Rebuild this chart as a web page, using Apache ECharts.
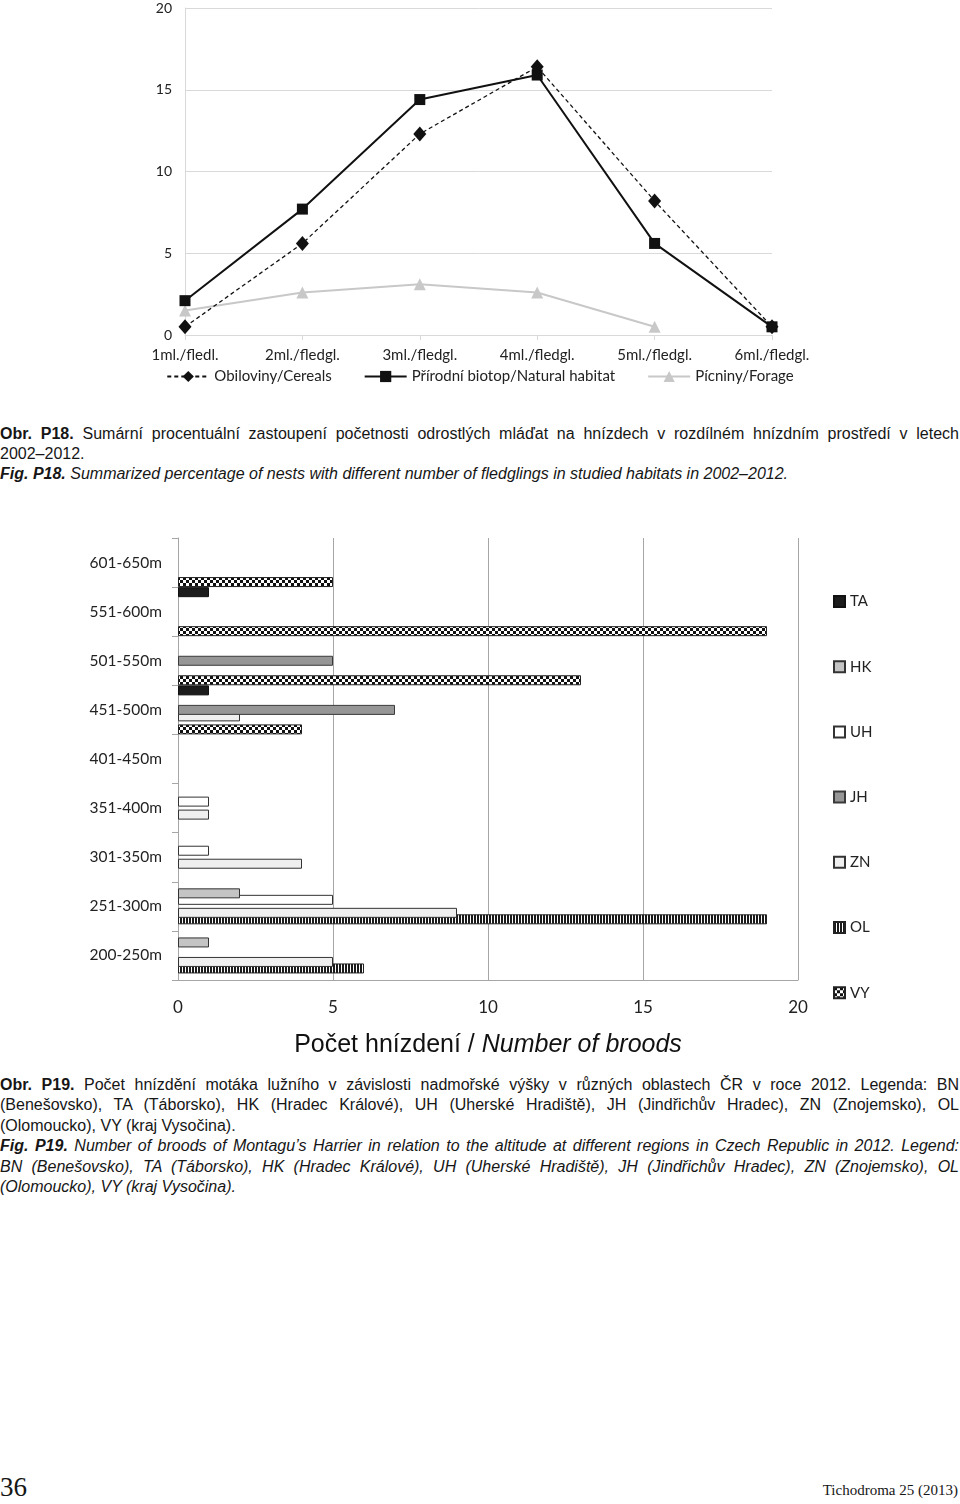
<!DOCTYPE html>
<html><head><meta charset="utf-8">
<script src="https://cdn.jsdelivr.net/npm/echarts@6/dist/echarts.min.js"></script>
<style>
html,body{margin:0;padding:0;background:#fff;}
body{width:960px;height:1504px;position:relative;overflow:hidden;font-family:"Liberation Sans",Arial,sans-serif;color:#161616;}
#c1{position:absolute;left:0;top:0;width:960px;height:400px;}
#c2{position:absolute;left:0;top:490px;width:960px;height:580px;}
.cap{position:absolute;left:0;width:959px;font-size:16px;}
.cap div{height:20px;line-height:20px;overflow:hidden;}
.cap2 div{height:20.4px;line-height:20.4px;}
.j{text-align:justify;text-align-last:justify;}
.i{font-style:italic;}
#pg{position:absolute;left:0;top:1472px;font-family:"Liberation Serif",serif;font-size:27px;line-height:30px;}
#jr{position:absolute;right:2px;top:1480px;font-family:"Liberation Serif",serif;font-size:15px;line-height:20px;}
</style></head>
<body>
<div id="c1"></div>
<div class="cap" style="top:424px">
<div class="j"><b>Obr. P18.</b> Sumární procentuální zastoupení početnosti odrostlých mláďat na hnízdech v rozdílném hnízdním prostředí v letech</div>
<div>2002–2012.</div>
<div class="i"><b>Fig. P18.</b> Summarized percentage of nests with different number of fledglings in studied habitats in 2002–2012.</div>
</div>
<div id="c2"></div>
<div class="cap cap2" style="top:1075px">
<div class="j"><b>Obr. P19.</b> Počet hnízdění motáka lužního v závislosti nadmořské výšky v různých oblastech ČR v roce 2012. Legenda: BN</div>
<div class="j">(Benešovsko), TA (Táborsko), HK (Hradec Králové), UH (Uherské Hradiště), JH (Jindřichův Hradec), ZN (Znojemsko), OL</div>
<div>(Olomoucko), VY (kraj Vysočina).</div>
<div class="j i"><b>Fig. P19.</b> Number of broods of Montagu’s Harrier in relation to the altitude at different regions in Czech Republic in 2012. Legend:</div>
<div class="j i">BN (Benešovsko), TA (Táborsko), HK (Hradec Králové), UH (Uherské Hradiště), JH (Jindřichův Hradec), ZN (Znojemsko), OL</div>
<div class="i">(Olomoucko), VY (kraj Vysočina).</div>
</div>
<div id="pg">36</div>
<div id="jr">Tichodroma 25 (2013)</div>
<script>
// ---- Fig. P18 data ----
const fledgeCats = ['1ml./fledl.','2ml./fledgl.','3ml./fledgl.','4ml./fledgl.','5ml./fledgl.','6ml./fledgl.'];
const cereals = [0.5, 5.6, 12.3, 16.4, 8.2, 0.5];
const natural = [2.1, 7.7, 14.4, 15.9, 5.6, 0.5];
const forage  = [1.5, 2.6, 3.1, 2.6, 0.5, null];
const yTicks1 = [0, 20, 5];

// ---- Fig. P19 data ----
const altCats = ['200-250m','251-300m','301-350m','351-400m','401-450m','451-500m','501-550m','551-600m','601-650m'];
const regionNames = ['TA','HK','UH','JH','ZN','OL','VY'];
const TA = [null, null, null, null, null, 1, null, 1, null];
const HK = [1, 2, null, null, null, null, null, null, null];
const UH = [null, 5, 1, 1, null, null, null, null, null];
const JH = [null, null, null, null, null, 7, 5, null, null];
const ZN = [5, 9, 4, 1, null, 2, null, null, null];
const OL = [6, 19, null, null, null, null, null, null, null];
const VY = [null, null, null, null, null, 4, 13, 19, 5];
const xTicks2 = [0, 20, 5];

function stripes(){
  const c=document.createElement('canvas');c.width=3;c.height=4;
  const g=c.getContext('2d');g.fillStyle='#ffffff';g.fillRect(0,0,3,4);
  g.fillStyle='#1a1a1a';g.fillRect(0,0,2,4);return c;
}
function checker(){
  const c=document.createElement('canvas');c.width=6;c.height=6;
  const g=c.getContext('2d');g.fillStyle='#ffffff';g.fillRect(0,0,6,6);
  g.fillStyle='#111111';g.fillRect(0,0,3,3);g.fillRect(3,3,3,3);return c;
}

const lab = {fontFamily:'Lato', color:'#222'};

const ch1 = echarts.init(document.getElementById('c1'), null, {renderer:'canvas'});
ch1.setOption({
  animation:false,
  grid:{left:185,right:188,top:8,bottom:65},
  legend:{left:'center',top:364,itemWidth:42,itemHeight:14,itemGap:32,
    textStyle:Object.assign({fontSize:15},lab),
    data:['Obiloviny/Cereals','Přírodní biotop/Natural habitat','Pícniny/Forage']},
  xAxis:{type:'category',boundaryGap:false,data:fledgeCats,
    axisLine:{lineStyle:{color:'#d9d9d9'}},
    axisTick:{show:true,length:5,lineStyle:{color:'#d9d9d9'}},
    axisLabel:Object.assign({fontSize:15,margin:13,interval:0},lab)},
  yAxis:{type:'value',min:yTicks1[0],max:yTicks1[1],interval:yTicks1[2],
    axisLine:{show:true,lineStyle:{color:'#d9d9d9'}},
    axisTick:{show:false},
    splitLine:{lineStyle:{color:'#d9d9d9'}},
    axisLabel:Object.assign({fontSize:14,margin:13},lab)},
  series:[
    {name:'Obiloviny/Cereals',type:'line',data:cereals,symbol:'diamond',symbolSize:[13,15],
      lineStyle:{color:'#111',width:1.3,type:[4,3]},itemStyle:{color:'#111'},z:4},
    {name:'Přírodní biotop/Natural habitat',type:'line',data:natural,symbol:'rect',symbolSize:11,
      lineStyle:{color:'#111',width:2},itemStyle:{color:'#111'},z:3},
    {name:'Pícniny/Forage',type:'line',data:forage,symbol:'triangle',symbolSize:12,
      lineStyle:{color:'#c8c8c8',width:2},itemStyle:{color:'#c8c8c8'},z:2}
  ]
});

const regionData = [TA,HK,UH,JH,ZN,OL,VY];
const fills = ['#1c1c1c','#c4c4c4','#ffffff','#969696','#efefef',
  {image:stripes(),repeat:'repeat'},{image:checker(),repeat:'repeat'}];
const borders = ['#111','#333','#333','#3a3a3a','#333','#222','#222'];

const ch2 = echarts.init(document.getElementById('c2'), null, {renderer:'canvas'});
ch2.setOption({
  animation:false,
  grid:{left:178,right:162,top:48,bottom:90},
  legend:{orient:'vertical',left:828,top:99,itemWidth:11,itemHeight:11,itemGap:50.2,icon:'rect',
    textStyle:Object.assign({fontSize:15,lineHeight:14},lab),data:regionNames},
  xAxis:{type:'value',min:xTicks2[0],max:xTicks2[1],interval:xTicks2[2],
    axisLine:{show:true,lineStyle:{color:'#a6a6a6'}},
    axisTick:{show:false},
    splitLine:{lineStyle:{color:'#a6a6a6'}},
    axisLabel:Object.assign({fontSize:17,margin:19},lab),
    name:'{a|Počet hnízdení / }{b|Number of broods}',nameLocation:'middle',nameGap:53,
    nameTextStyle:{rich:{
      a:{fontFamily:'Liberation Sans',fontSize:25,color:'#111'},
      b:{fontFamily:'Liberation Sans',fontSize:25,fontStyle:'italic',color:'#111'}}}},
  yAxis:{type:'category',data:altCats,
    axisLine:{lineStyle:{color:'#a6a6a6'}},
    axisTick:{show:true,length:6,lineStyle:{color:'#a6a6a6'}},
    axisLabel:Object.assign({fontSize:15.5,margin:16,interval:0},lab)},
  series: regionNames.map((n,i)=>({
    name:n,type:'bar',data:regionData[i],barWidth:10,barGap:'-35%',z:20-i,
    itemStyle:{color:fills[i],borderColor:borders[i],borderWidth:1}
  }))
});
</script>
</body></html>
